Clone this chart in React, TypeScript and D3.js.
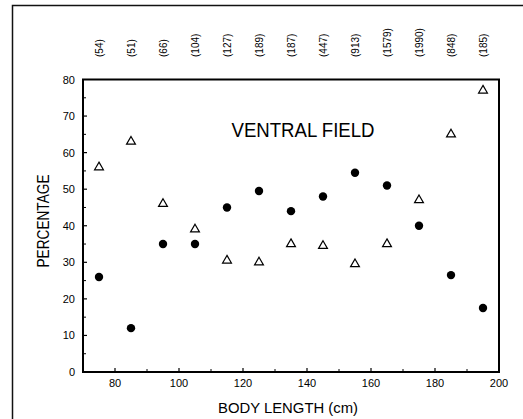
import React, { useEffect, useRef } from 'react';
import * as d3 from 'd3';

// body length classes (cm), midpoints of 10 cm bins
const lengths = [75, 85, 95, 105, 115, 125, 135, 145, 155, 165, 175, 185, 195];
// filled circles
const circleValues = [26, 12, 35, 35, 45, 49.5, 44, 48, 54.5, 51, 40, 26.5, 17.5];
// open triangles
const triangleValues = [56, 63, 46, 39, 30.5, 30, 35, 34.5, 29.5, 35, 47, 65, 77];
// sample sizes shown above the plot
const sampleSizes = ['(54)', '(51)', '(66)', '(104)', '(127)', '(189)', '(187)', '(447)', '(913)', '(1579)', '(1990)', '(848)', '(185)'];
const xTicks = [80, 100, 120, 140, 160, 180, 200];
const yTicks = [0, 10, 20, 30, 40, 50, 60, 70, 80];

const App: React.FC = () => {
    const svgRef = useRef<SVGSVGElement>(null);

    useEffect(() => {
        document.body.style.margin = '0';
        if (!svgRef.current) return;
        const width = 523;
        const height = 419;
        const font = 'Liberation Sans, Arial, Helvetica, sans-serif';

        const svg = d3.select(svgRef.current);
        svg.selectAll('*').remove();
        svg.attr('width', width).attr('height', height).style('display', 'block').style('font-family', font);

        svg.append('rect').attr('width', width).attr('height', height).attr('fill', '#fff');

        // outer frame (only left and top edges visible)
        svg.append('path')
            .attr('d', `M12.5,${height} L12.5,5.5 L${width},5.5`)
            .attr('fill', 'none')
            .attr('stroke', '#111')
            .attr('stroke-width', 1.5);

        const x = d3.scaleLinear().domain([70, 200]).range([83, 499]);
        const y = d3.scaleLinear().domain([0, 80]).range([372, 79.5]);

        // plot box
        svg.append('rect')
            .attr('x', x(70))
            .attr('y', y(80))
            .attr('width', x(200) - x(70))
            .attr('height', y(0) - y(80))
            .attr('fill', 'none')
            .attr('stroke', '#000')
            .attr('stroke-width', 2);

        // y ticks (inward) with minor ticks at 5s
        const yMinor = d3.range(5, 80, 10);
        svg.append('g').selectAll('line.ymaj').data(yTicks.slice(1, -1)).enter().append('line')
            .attr('x1', x(70)).attr('x2', x(70) + 4)
            .attr('y1', d => y(d)).attr('y2', d => y(d))
            .attr('stroke', '#000').attr('stroke-width', 1.2);
        svg.append('g').selectAll('line.ymin').data(yMinor).enter().append('line')
            .attr('x1', x(70)).attr('x2', x(70) + 3)
            .attr('y1', d => y(d)).attr('y2', d => y(d))
            .attr('stroke', '#000').attr('stroke-width', 1);

        svg.append('g').selectAll('text').data(yTicks).enter().append('text')
            .attr('x', 75)
            .attr('y', d => y(d) + 4)
            .attr('text-anchor', 'end')
            .attr('font-size', 11)
            .attr('fill', '#000')
            .text(d => d);

        // x ticks (inward) with minor ticks at 10s
        const xMinor = d3.range(90, 200, 20);
        svg.append('g').selectAll('line').data(xTicks.slice(0, -1)).enter().append('line')
            .attr('x1', d => x(d)).attr('x2', d => x(d))
            .attr('y1', y(0)).attr('y2', y(0) - 4)
            .attr('stroke', '#000').attr('stroke-width', 1.2);
        svg.append('g').selectAll('line').data(xMinor).enter().append('line')
            .attr('x1', d => x(d)).attr('x2', d => x(d))
            .attr('y1', y(0)).attr('y2', y(0) - 3)
            .attr('stroke', '#000').attr('stroke-width', 1);

        svg.append('g').selectAll('text').data(xTicks).enter().append('text')
            .attr('x', d => x(d))
            .attr('y', 387)
            .attr('text-anchor', 'middle')
            .attr('font-size', 11)
            .attr('fill', '#000')
            .text(d => d);

        // sample sizes, rotated
        svg.append('g').selectAll('text').data(sampleSizes).enter().append('text')
            .attr('transform', (d, i) => `translate(${x(lengths[i]) + 3.5},57) rotate(-90)`)
            .attr('text-anchor', 'start')
            .attr('font-size', 10)
            .attr('fill', '#000')
            .text(d => d);

        // axis titles
        svg.append('text')
            .attr('transform', 'translate(49,221) rotate(-90)')
            .attr('text-anchor', 'middle')
            .attr('font-size', 16)
            .attr('textLength', 93)
            .attr('lengthAdjust', 'spacingAndGlyphs')
            .attr('fill', '#000')
            .text('PERCENTAGE');

        svg.append('text')
            .attr('x', 288)
            .attr('y', 413)
            .attr('text-anchor', 'middle')
            .attr('font-size', 15)
            .attr('textLength', 140)
            .attr('lengthAdjust', 'spacingAndGlyphs')
            .attr('fill', '#000')
            .text('BODY LENGTH (cm)');

        svg.append('text')
            .attr('x', 303)
            .attr('y', 136.5)
            .attr('text-anchor', 'middle')
            .attr('font-size', 19.5)
            .attr('textLength', 143)
            .attr('lengthAdjust', 'spacingAndGlyphs')
            .attr('fill', '#000')
            .text('VENTRAL FIELD');

        // filled circles
        svg.append('g').selectAll('circle').data(circleValues).enter().append('circle')
            .attr('cx', (d, i) => x(lengths[i]))
            .attr('cy', d => y(d))
            .attr('r', 4.2)
            .attr('fill', '#000');

        // open triangles
        const tri = d3.symbol().type(d3.symbolTriangle).size(34);
        svg.append('g').selectAll('path').data(triangleValues).enter().append('path')
            .attr('transform', (d, i) => `translate(${x(lengths[i])},${y(d)})`)
            .attr('d', tri() as string)
            .attr('fill', 'none')
            .attr('stroke', '#000')
            .attr('stroke-width', 1.2);
    }, []);

    return <svg ref={svgRef}></svg>;
};

export default App;
